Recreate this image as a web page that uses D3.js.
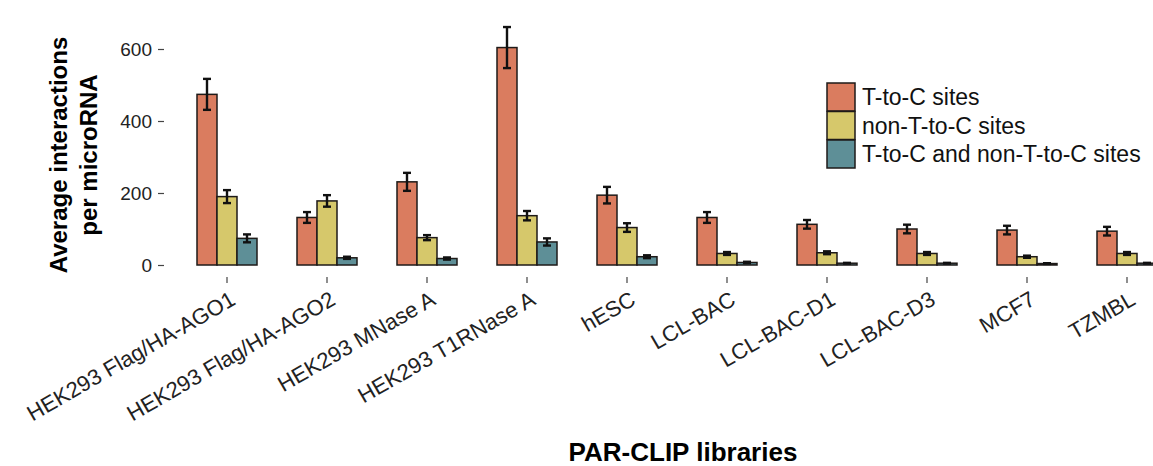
<!DOCTYPE html>
<html>
<head>
<meta charset="utf-8">
<script src="https://cdn.jsdelivr.net/npm/d3@7"></script>
<style>
  html, body { margin: 0; padding: 0; background: #fff; }
  svg { display: block; font-family: "Liberation Sans", Arial, Helvetica, sans-serif; }
</style>
</head>
<body>
<svg id="chart" width="1153" height="466"></svg>
<script>
// PAR-CLIP libraries
const categories = [
  "HEK293 Flag/HA-AGO1", "HEK293 Flag/HA-AGO2", "HEK293 MNase A", "HEK293 T1RNase A",
  "hESC", "LCL-BAC", "LCL-BAC-D1", "LCL-BAC-D3", "MCF7", "TZMBL"
];
const seriesNames = ["T-to-C sites", "non-T-to-C sites", "T-to-C and non-T-to-C sites"];

// Average interactions per microRNA and standard errors
const tcValues     = [474, 132, 231, 604, 194, 132, 113, 100, 97, 94];
const tcErrors     = [43, 15, 25, 57, 23, 15, 12, 12, 12, 12];
const nonTcValues  = [190, 178, 76, 137, 104, 32, 34, 32, 23, 32];
const nonTcErrors  = [18, 16, 7, 13, 12, 4, 4, 4, 3, 4];
const bothValues   = [74, 20, 18, 64, 23, 7, 5, 5, 4, 5];
const bothErrors   = [11, 3, 3, 10, 4, 2, 1, 1, 1, 1];

const yTicks = [0, 200, 400, 600];
const colors = ["#da7c5f", "#d6c86b", "#5e8f97"];

const valueSets = [tcValues, nonTcValues, bothValues];
const errorSets = [tcErrors, nonTcErrors, bothErrors];
const rows = [];
categories.forEach((c, i) => {
  seriesNames.forEach((s, j) => {
    rows.push({ category: c, series: s, si: j, value: valueSets[j][i], err: errorSets[j][i] });
  });
});

const svg = d3.select("#chart");

const x = d3.scaleBand().domain(categories).range([167, 1187]).paddingInner(0.4).paddingOuter(0.3);
const xs = d3.scaleBand().domain(seriesNames).range([0, x.bandwidth()]);
const y = d3.scaleLinear().domain([0, 600]).range([265, 49]);

// bars
svg.append("g").selectAll("rect").data(rows).join("rect")
  .attr("x", d => x(d.category) + xs(d.series))
  .attr("y", d => y(d.value))
  .attr("width", xs.bandwidth())
  .attr("height", d => y(0) - y(d.value))
  .attr("fill", d => colors[d.si])
  .attr("stroke", "#1e1a18")
  .attr("stroke-width", 1.5);

// error bars
const eb = svg.append("g").attr("stroke", "#111").attr("stroke-width", 2.4);
const capHalf = xs.bandwidth() * 0.2;
rows.forEach(d => {
  const cx = x(d.category) + xs(d.series) + xs.bandwidth() / 2;
  const y1 = y(d.value + d.err), y2 = y(Math.max(0, d.value - d.err));
  eb.append("line").attr("x1", cx).attr("x2", cx).attr("y1", y1).attr("y2", y2);
  eb.append("line").attr("x1", cx - capHalf).attr("x2", cx + capHalf).attr("y1", y1).attr("y2", y1);
  eb.append("line").attr("x1", cx - capHalf).attr("x2", cx + capHalf).attr("y1", y2).attr("y2", y2);
});

// y axis
const yAxis = svg.append("g").attr("transform", "translate(164,0)")
  .call(d3.axisLeft(y).tickValues(yTicks).tickSize(6).tickPadding(6));
yAxis.select(".domain").remove();
yAxis.selectAll(".tick line").attr("stroke", "#444").attr("stroke-width", 1.2);
yAxis.selectAll(".tick text").attr("fill", "#222").style("font-size", "19px")
  .style("font-family", "'Liberation Sans', Arial, sans-serif");

// x axis
const xAxis = svg.append("g").attr("transform", "translate(0,277)")
  .call(d3.axisBottom(x).tickSize(6).tickFormat(""));
xAxis.select(".domain").remove();
xAxis.selectAll(".tick line").attr("stroke", "#444").attr("stroke-width", 1.2);

svg.append("g").selectAll("text").data(categories).join("text")
  .attr("transform", d => `translate(${x(d) + x.bandwidth() / 2 + 2},290) rotate(-30)`)
  .attr("text-anchor", "end")
  .attr("dy", "0.72em")
  .attr("fill", "#222")
  .style("font-size", "22px")
  .text(d => d);

// axis titles
svg.append("text")
  .attr("transform", "translate(683,461)")
  .attr("text-anchor", "middle")
  .style("font-size", "26px").style("font-weight", "bold")
  .text("PAR-CLIP libraries");

const yTitle = svg.append("text")
  .attr("transform", "translate(0,155) rotate(-90)")
  .attr("text-anchor", "middle")
  .style("font-size", "24px").style("font-weight", "bold");
yTitle.append("tspan").attr("x", 0).attr("y", 67).text("Average interactions");
yTitle.append("tspan").attr("x", 0).attr("y", 97).text("per microRNA");

// legend
const legend = svg.append("g").attr("transform", "translate(827,83)");
seriesNames.forEach((s, j) => {
  const g = legend.append("g").attr("transform", `translate(0,${j * 28.5})`);
  g.append("rect").attr("width", 28).attr("height", 28)
    .attr("fill", colors[j]).attr("stroke", "#1e1a18").attr("stroke-width", 1.5);
  g.append("text").attr("x", 35).attr("y", 14).attr("dy", "0.36em")
    .style("font-size", "23px").attr("fill", "#111").text(s);
});
</script>
</body>
</html>
